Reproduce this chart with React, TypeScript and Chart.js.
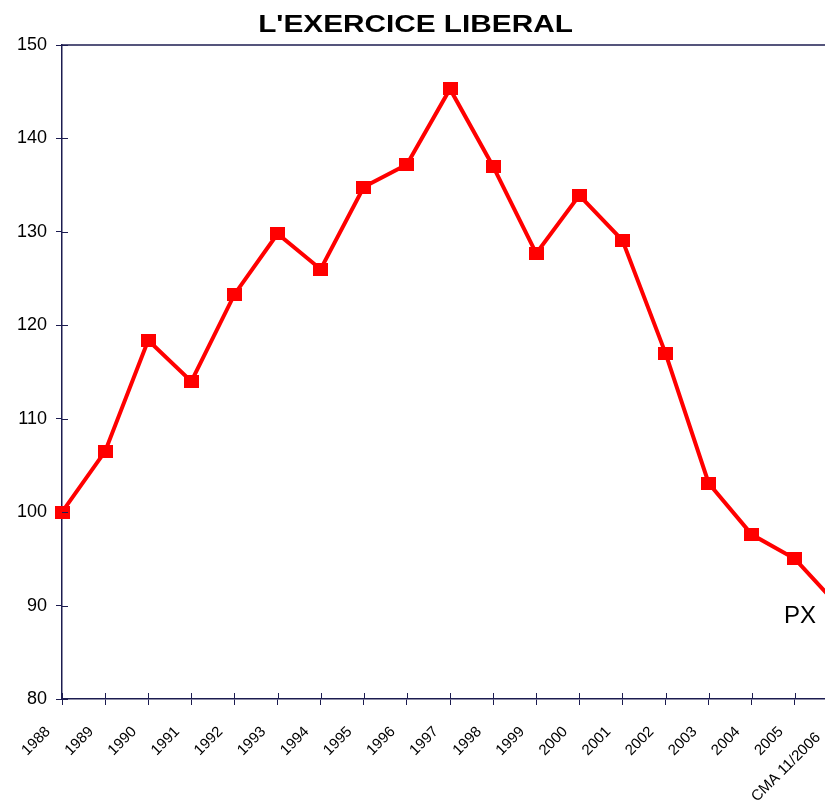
import React, { useEffect, useRef } from "react";
import { Chart, registerables } from "chart.js";

Chart.register(...registerables);

const TITLE = "L'EXERCICE LIBERAL";
const CATEGORIES = [
  "1988", "1989", "1990", "1991", "1992", "1993", "1994", "1995", "1996",
  "1997", "1998", "1999", "2000", "2001", "2002", "2003", "2004", "2005",
  "CMA 11/2006  ",
];
const VALUES = [
  100, 106.5, 118.4, 114.0, 123.3, 129.8, 126.0, 134.8, 137.2,
  145.3, 137.0, 127.7, 133.9, 129.1, 117.0, 103.1, 97.6, 95.0, 90.0,
];
const Y_MIN = 80;
const Y_MAX = 150;
const Y_STEP = 10;
const SERIES_LABEL = "PX";

const AXIS = "#1c1c50";
const RED = "#ff0000";
const FONT = "'Liberation Sans', Arial, sans-serif";

export default function App() {
  const ref = useRef<HTMLCanvasElement | null>(null);

  useEffect(() => {
    if (!ref.current) return;
    const marker = document.createElement("canvas");
    marker.width = 15;
    marker.height = 13;
    const mctx = marker.getContext("2d")!;
    mctx.fillStyle = RED;
    mctx.fillRect(0, 0, 15, 13);

    const decor = {
      id: "decor",
      afterDraw(chart: any) {
        const { ctx, chartArea } = chart;
        const xs = chart.scales.x;
        const ys = chart.scales.y;
        ctx.save();
        ctx.strokeStyle = AXIS;
        ctx.lineWidth = 1.5;
        ctx.beginPath();
        ctx.moveTo(chartArea.left, chartArea.top);
        ctx.lineTo(chartArea.right, chartArea.top);
        ctx.stroke();
        ctx.lineWidth = 1;
        ctx.beginPath();
        ys.ticks.forEach((_: any, i: number) => {
          const y = Math.round(ys.getPixelForTick(i)) + 0.5;
          ctx.moveTo(chartArea.left, y);
          ctx.lineTo(chartArea.left + 6, y);
        });
        xs.ticks.forEach((_: any, i: number) => {
          const x = Math.round(xs.getPixelForTick(i)) + 0.5;
          ctx.moveTo(x, chartArea.bottom);
          ctx.lineTo(x, chartArea.bottom - 6);
        });
        ctx.stroke();
        ctx.fillStyle = "#000";
        ctx.font = `bold 24px ${FONT}`;
        ctx.textAlign = "center";
        ctx.textBaseline = "alphabetic";
        ctx.translate(415.5, 32);
        ctx.scale(1.24, 1);
        ctx.fillText(TITLE, 0, 0);
        ctx.restore();
        ctx.save();
        ctx.fillStyle = "#000";
        ctx.font = `24px ${FONT}`;
        ctx.textAlign = "left";
        ctx.textBaseline = "alphabetic";
        ctx.fillText(SERIES_LABEL, 784, 623);
        ctx.restore();
      },
    };

    const chart = new Chart(ref.current, {
      type: "line",
      data: {
        labels: CATEGORIES,
        datasets: [
          {
            label: SERIES_LABEL,
            data: VALUES,
            borderColor: RED,
            backgroundColor: RED,
            borderWidth: 4,
            pointStyle: marker as any,
            pointRadius: 8,
            tension: 0,
            clip: false as any,
          },
        ],
      },
      options: {
        animation: false,
        responsive: false,
        devicePixelRatio: 1,
        layout: { padding: { top: 45, right: 12, left: 0, bottom: 0 } },
        plugins: {
          legend: { display: false },
          title: { display: false },
          tooltip: { enabled: false },
        },
        scales: {
          x: {
            type: "category",
            offset: false,
            grid: {
              display: true,
              drawOnChartArea: false,
              drawTicks: true,
              tickLength: 6,
              color: AXIS,
            },
            border: { color: AXIS, width: 1.5 },
            ticks: {
              autoSkip: false,
              minRotation: 45,
              maxRotation: 45,
              color: "#000",
              font: { family: FONT, size: 15 },
              padding: 18,
              labelOffset: -14,
            },
            afterFit: (s: any) => {
              s.height = 113;
              s.paddingLeft = 0;
              s.paddingRight = 0;
            },
          },
          y: {
            min: Y_MIN,
            max: Y_MAX,
            grid: {
              display: true,
              drawOnChartArea: false,
              drawTicks: true,
              tickLength: 6,
              color: AXIS,
            },
            border: { color: AXIS, width: 1.5 },
            ticks: {
              stepSize: Y_STEP,
              color: "#000",
              font: { family: FONT, size: 18 },
              padding: 9,
            },
            afterFit: (s: any) => {
              s.width = 62;
            },
          },
        },
      },
      plugins: [decor],
    });
    return () => chart.destroy();
  }, []);

  return (
    <div
      style={{
        position: "fixed",
        left: 0,
        top: 0,
        width: 825,
        height: 812,
        overflow: "hidden",
        background: "#fff",
      }}
    >
      <canvas
        ref={ref}
        width={850}
        height={812}
        style={{ width: 850, height: 812, display: "block" }}
      />
    </div>
  );
}
